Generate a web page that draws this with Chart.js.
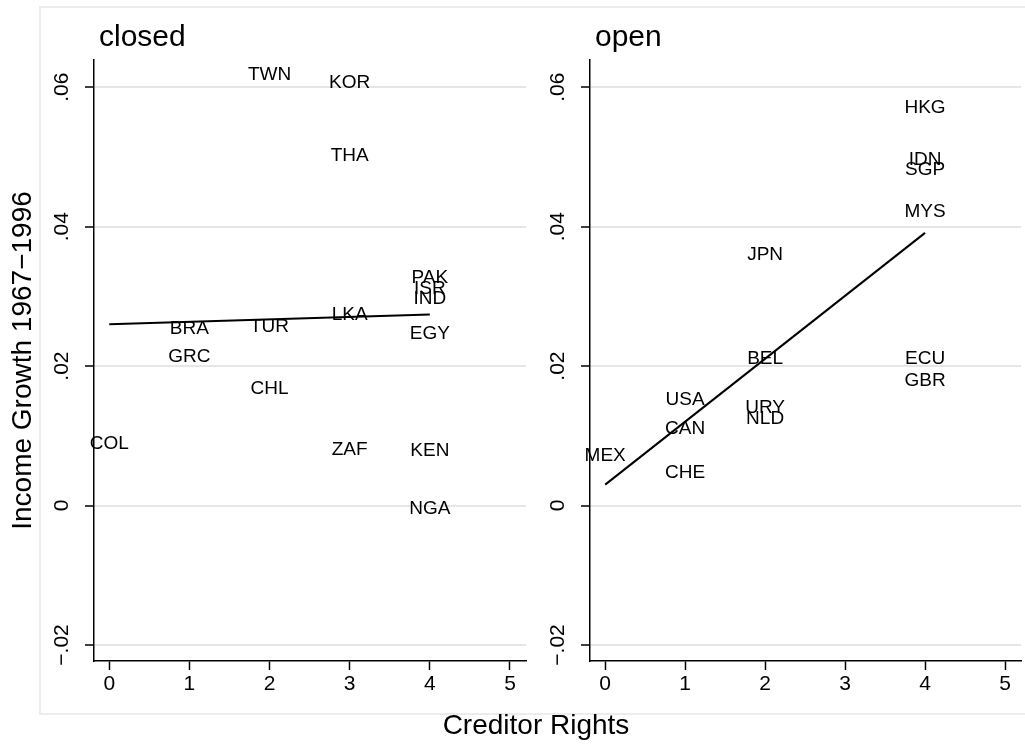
<!DOCTYPE html>
<html>
<head>
<meta charset="utf-8">
<title>Income Growth vs Creditor Rights</title>
<script src="https://cdn.jsdelivr.net/npm/chart.js@4.4.1/dist/chart.umd.min.js"></script>
<style>
  body { margin: 0; background: #fff; }
  #wrap { position: relative; width: 1025px; height: 746px; overflow: hidden; background: #fff;
          font-family: "Liberation Sans", Arial, sans-serif; }
  #frame { position: absolute; left: 39px; top: 6px; width: 1010px; height: 705px; border: 2px solid #ececec; }
  canvas { position: absolute; top: 0; }
  #closedChart { left: 0; }
  #openChart { left: 540px; }
  #xtitle { position: absolute; left: 336px; top: 711px; width: 400px; text-align: center;
            font-size: 28px; line-height: 1; color: #000; }
</style>
</head>
<body>
<div id="wrap">
  <div id="frame"></div>
  <canvas id="closedChart" width="540" height="746"></canvas>
  <canvas id="openChart" width="485" height="746"></canvas>
  <div id="xtitle">Creditor Rights</div>
</div>
<script>
// Axis ticks
const xTicks = [0, 1, 2, 3, 4, 5];
const yTicks = [-0.02, 0, 0.02, 0.04, 0.06];
const yTickLabels = ['\u2212.02', '0', '.02', '.04', '.06'];

// closed economies
const closedCountries = ['TWN', 'KOR', 'THA', 'PAK', 'ISR', 'IND', 'LKA', 'BRA', 'TUR', 'EGY', 'GRC', 'CHL', 'COL', 'ZAF', 'KEN', 'NGA'];
const closedRights = [2, 3, 3, 4, 4, 4, 3, 1, 2, 4, 1, 2, 0, 3, 4, 4];
const closedGrowth = [0.0618, 0.0606, 0.0502, 0.0326, 0.0311, 0.0296, 0.0273, 0.0253, 0.0257, 0.0247, 0.0214, 0.0167, 0.0089, 0.0080, 0.0078, -0.0004];

// open economies
const openCountries = ['HKG', 'IDN', 'SGP', 'MYS', 'JPN', 'BEL', 'ECU', 'GBR', 'USA', 'URY', 'NLD', 'CAN', 'MEX', 'CHE'];
const openRights = [4, 4, 4, 4, 2, 2, 4, 4, 1, 2, 2, 1, 0, 1];
const openGrowth = [0.0571, 0.0496, 0.0481, 0.0422, 0.0359, 0.0211, 0.0211, 0.0179, 0.0151, 0.0140, 0.0124, 0.0110, 0.0072, 0.0047];

// Fitted lines (end points)
const fitRights = [0, 4];
const closedFit = [0.0260, 0.0274];
const openFit = [0.0030, 0.0391];

Chart.defaults.font.family = '"Liberation Sans", Arial, sans-serif';
Chart.defaults.color = '#000';

// Draws the country codes centred on each point, plus the panel title
const labelPlugin = {
    id: 'countryLabels',
    afterDatasetsDraw(chart, args, opts) {
        const ctx = chart.ctx;
        const meta = chart.getDatasetMeta(1);
        ctx.save();
        ctx.fillStyle = '#000';
        ctx.font = '19px "Liberation Sans", Arial, sans-serif';
        ctx.textAlign = 'center';
        ctx.textBaseline = 'middle';
        meta.data.forEach(function(pt, i) {
            ctx.fillText(opts.names[i], pt.x, pt.y);
        });
        ctx.font = '30px "Liberation Sans", Arial, sans-serif';
        ctx.textAlign = 'left';
        ctx.textBaseline = 'alphabetic';
        ctx.fillText(opts.title, chart.chartArea.left + 5, 46);
        ctx.restore();
    }
};

function makePanel(id, names, rights, growth, fit, title, yWidth, padRight, showYTitle) {
    const ctx = document.getElementById(id).getContext('2d');
    return new Chart(ctx, {
        type: 'scatter',
        data: {
            datasets: [
                {
                    data: fitRights.map((x, i) => ({ x: x, y: fit[i] })),
                    showLine: true,
                    borderColor: '#000',
                    borderWidth: 2,
                    pointRadius: 0,
                    pointHoverRadius: 0
                },
                {
                    data: rights.map((x, i) => ({ x: x, y: growth[i] })),
                    pointRadius: 0,
                    pointHoverRadius: 0
                }
            ]
        },
        options: {
            responsive: false,
            animation: false,
            events: [],
            layout: { padding: { top: 60, right: padRight, left: 0, bottom: 0 } },
            plugins: {
                legend: { display: false },
                tooltip: { enabled: false },
                countryLabels: { names: names, title: title }
            },
            scales: {
                x: {
                    type: 'linear',
                    min: -0.19,
                    max: 5.2,
                    afterBuildTicks: s => { s.ticks = xTicks.map(v => ({ value: v })); },
                    afterFit: s => { s.height = 85; },
                    grid: { drawOnChartArea: false, drawTicks: true, tickLength: 9, tickColor: '#000', tickWidth: 1.5 },
                    border: { color: '#000', width: 1.5 },
                    ticks: { color: '#000', font: { size: 21 }, padding: 2, maxRotation: 0 }
                },
                y: {
                    type: 'linear',
                    min: -0.0223,
                    max: 0.0639,
                    afterBuildTicks: s => { s.ticks = yTicks.map(v => ({ value: v })); },
                    afterFit: s => { s.width = yWidth; },
                    grid: { color: '#e6e6e6', lineWidth: 2, tickLength: 9, tickColor: '#000', tickWidth: 1.5 },
                    border: { color: '#000', width: 1.5 },
                    ticks: {
                        color: '#000',
                        font: { size: 21 },
                        padding: 2,
                        minRotation: 90,
                        maxRotation: 90,
                        crossAlign: 'center',
                        callback: (v, i) => yTickLabels[i]
                    },
                    title: {
                        display: showYTitle,
                        text: 'Income Growth 1967\u22121996',
                        color: '#000',
                        font: { size: 28 },
                        padding: { top: 6, bottom: 0 }
                    }
                }
            }
        },
        plugins: [labelPlugin]
    });
}

makePanel('closedChart', closedCountries, closedRights, closedGrowth, closedFit, 'closed', 94, 14, true);
makePanel('openChart', openCountries, openRights, openGrowth, openFit, 'open', 50, 4, false);
</script>
</body>
</html>
